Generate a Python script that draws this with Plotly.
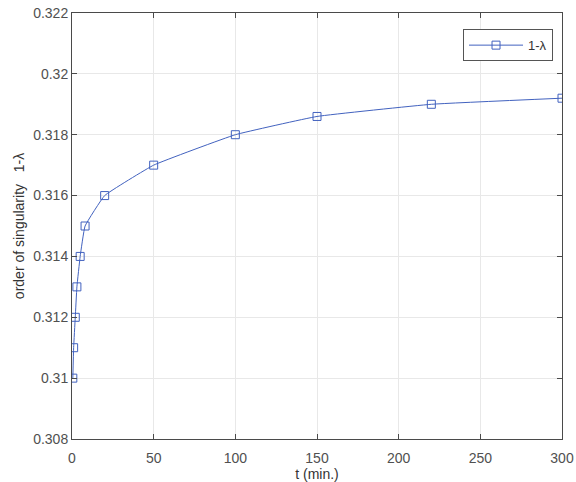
import plotly.graph_objects as go

t_min = [0.5, 1, 2, 3, 5, 8, 20, 50, 100, 150, 220, 300]
order_1_lambda = [0.310, 0.311, 0.312, 0.313, 0.314, 0.315, 0.316, 0.317, 0.318, 0.3186, 0.3190, 0.3192]
x_ticks = [0, 50, 100, 150, 200, 250, 300]
y_ticks = [0.308, 0.31, 0.312, 0.314, 0.316, 0.318, 0.32, 0.322]
y_tick_text = ["0.308", "0.31", "0.312", "0.314", "0.316", "0.318", "0.32", "0.322"]

blue = "#4262bf"
axis_color = "#4a4a4a"
font = "Liberation Sans, Arial, sans-serif"

fig = go.Figure()
fig.add_trace(go.Scatter(
    x=t_min, y=order_1_lambda, mode="lines+markers", name="1-λ",
    line=dict(color=blue, width=1, shape="spline", smoothing=0.3),
    marker=dict(symbol="square-open", size=8, color=blue, line=dict(width=1, color=blue)),
))

axis_common = dict(
    showline=True, linecolor=axis_color, linewidth=1, mirror="ticks",
    ticks="inside", ticklen=5, tickcolor=axis_color,
    showgrid=True, gridcolor="#e8e8e8", gridwidth=1, zeroline=False,
    tickfont=dict(family=font, size=14, color="#505050"),
    automargin=False,
)

fig.update_layout(
    width=576, height=482,
    margin=dict(l=72, r=14, t=13, b=43),
    paper_bgcolor="white", plot_bgcolor="white",
    font=dict(family=font, size=14, color="#505050"),
    showlegend=True,
    legend=dict(x=0.798, y=0.962, xanchor="left", yanchor="top",
                bordercolor="#555555", borderwidth=1, bgcolor="white",
                itemwidth=54,
                font=dict(family=font, size=13, color="#333333")),
    xaxis=dict(range=[0, 300], tickvals=x_ticks, ticklabelstandoff=6,
               title=dict(text="t (min.)", standoff=17, font=dict(family=font, size=14, color="#333333")),
               **axis_common),
    yaxis=dict(range=[0.308, 0.322], tickvals=y_ticks, ticktext=y_tick_text,
               title=dict(text="order of singularity   1-λ", standoff=5, font=dict(family=font, size=14, color="#333333")),
               **axis_common),
)

fig.write_html("out.html")
